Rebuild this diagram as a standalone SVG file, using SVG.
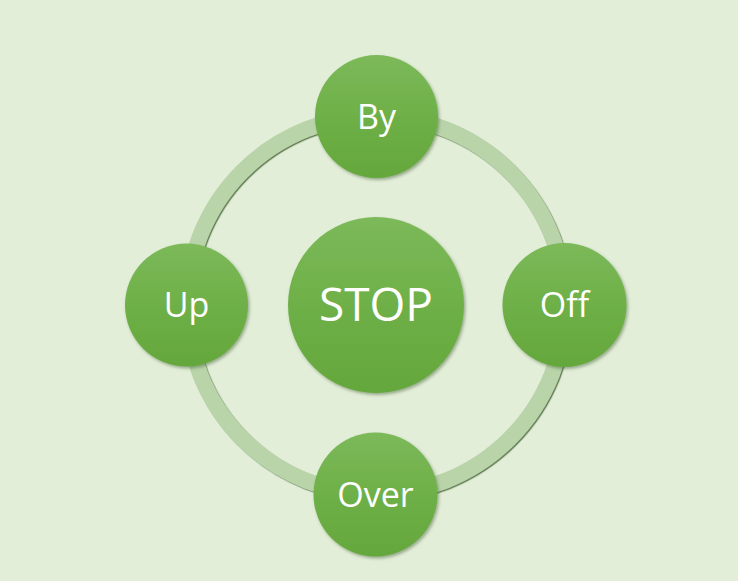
<svg xmlns="http://www.w3.org/2000/svg" width="738" height="581" viewBox="0 0 738 581">
  <defs>
    <linearGradient id="g" x1="0" y1="0" x2="0" y2="1">
      <stop offset="0" stop-color="#7cb95a"/>
      <stop offset="0.5" stop-color="#6eb047"/>
      <stop offset="1" stop-color="#64a73c"/>
    </linearGradient>
    <filter id="sh" x="-20%" y="-20%" width="140%" height="140%">
      <feDropShadow dx="1.5" dy="2" stdDeviation="1.8" flood-color="#3d5a2c" flood-opacity="0.45"/>
    </filter>
    <filter id="rsh" x="-10%" y="-10%" width="120%" height="120%">
      <feDropShadow dx="1.2" dy="1.2" stdDeviation="0.7" flood-color="#56744a" flood-opacity="0.9"/>
    </filter>
  </defs>
  <style>
    .arc { fill: none; stroke: #bad4aa; stroke-width: 16; }
    .node { fill: url(#g); filter: url(#sh); }
    .lbl { font-family: "Open Sans", "Noto Sans", sans-serif; fill: #ffffff; text-anchor: middle; font-size: 34px; }
    .big { font-size: 46px; }
  </style>
  <rect width="738" height="581" fill="#e3eed9"/>
  <g id="connectors" filter="url(#rsh)">
    <path class="arc" d="M376 116 A189 189 0 0 1 565 305"/>
    <path class="arc" d="M565 305 A189 189 0 0 1 376 494"/>
    <path class="arc" d="M376 494 A189 189 0 0 1 187 305"/>
    <path class="arc" d="M187 305 A189 189 0 0 1 376 116"/>
  </g>
  <g id="stop">
    <circle class="node" cx="376" cy="305" r="88"/>
    <text class="lbl big" x="376" y="321">STOP</text>
  </g>
  <g id="by">
    <circle class="node" cx="376.5" cy="116.5" r="61.5"/>
    <text class="lbl" x="376.5" y="129">By</text>
  </g>
  <g id="off">
    <circle class="node" cx="564.5" cy="305" r="62"/>
    <text class="lbl" x="564.5" y="317">Off</text>
  </g>
  <g id="over">
    <circle class="node" cx="375.5" cy="494.5" r="62"/>
    <text class="lbl" x="375.5" y="506.5">Over</text>
  </g>
  <g id="up">
    <circle class="node" cx="186.5" cy="305" r="61.5"/>
    <text class="lbl" x="186.5" y="317">Up</text>
  </g>
</svg>
